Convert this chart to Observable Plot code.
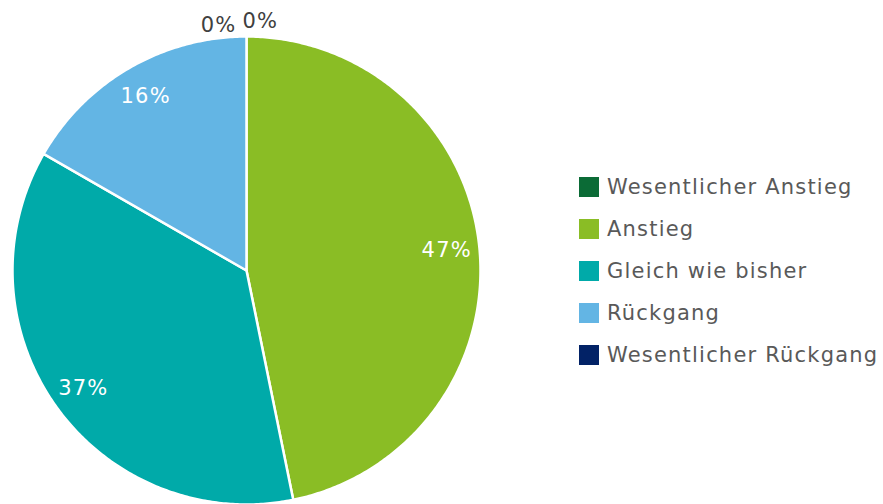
<!DOCTYPE html>
<html><head><meta charset="utf-8">
<script src="https://cdn.jsdelivr.net/npm/d3@7"></script>
<script src="https://cdn.jsdelivr.net/npm/@observablehq/plot@0.6"></script>
<style>
body{margin:0;background:#fff;font-family:"DejaVu Sans",Verdana,sans-serif;}
#wrap{position:relative;width:883px;height:504px;}
#legend{position:absolute;left:579px;top:166px;}
.row{display:flex;align-items:center;height:42px;font-size:21px;letter-spacing:1.2px;color:#595959;}
.sw{width:20px;height:20px;margin-right:8px;flex:none;}
</style></head><body>
<div id="wrap"><div id="chart"></div><div id="legend"></div></div>
<script>
const categories = ["Wesentlicher Anstieg", "Anstieg", "Gleich wie bisher", "Rückgang", "Wesentlicher Rückgang"];
const values = [0, 46.8, 36.5, 16.7, 0];
const labels = ["0%", "47%", "37%", "16%", "0%"];
const colors = ["#0b6b36", "#8abd25", "#00aaa9", "#63b5e4", "#022266"];

const W = 883, H = 504, cx = 246, cy = 270, R = 234;
const pie = d3.pie().sort(null).value(d => d.value)(categories.map((c, i) => ({cat: c, value: values[i], label: labels[i]})));

// slice polygons (angle measured clockwise from top)
const pts = [];
pie.forEach(s => {
  if (s.data.value <= 0) return;
  const n = Math.max(2, Math.ceil((s.endAngle - s.startAngle) / 0.01));
  pts.push({cat: s.data.cat, x: 0, y: 0});
  for (let k = 0; k <= n; k++) {
    const a = s.startAngle + (s.endAngle - s.startAngle) * k / n;
    pts.push({cat: s.data.cat, x: Math.sin(a), y: Math.cos(a)});
  }
  pts.push({cat: s.data.cat, x: 0, y: 0});
});

const inside = pie.filter(s => s.data.value > 0).map(s => {
  const a = (s.startAngle + s.endAngle) / 2;
  return {x: 0.86 * Math.sin(a), y: 0.86 * Math.cos(a), label: s.data.label};
});
const zeroes = pie.filter(s => s.data.value <= 0).map(s => ({
  x: 0, y: 1.07, label: s.data.label, first: s.index === 0
}));

const txt = {fontSize: 21};
const chart = Plot.plot({
  width: W, height: H, margin: 0,
  x: {domain: [-cx / R, (W - cx) / R], range: [0, W], axis: null},
  y: {domain: [-(H - cy) / R, cy / R], range: [H, 0], axis: null},
  color: {domain: categories, range: colors},
  style: {fontFamily: "DejaVu Sans, Verdana, sans-serif"},
  marks: [
    Plot.line(pts, {x: "x", y: "y", z: "cat", fill: "cat", stroke: "white", strokeWidth: 2.5, curve: "linear"}),
    Plot.text(inside, {x: "x", y: "y", text: "label", fill: "white", ...txt}),
    Plot.text(zeroes.filter(d => d.first), {x: "x", y: "y", text: "label", fill: "#404040", ...txt, textAnchor: "start", dx: -4, dy: 1}),
    Plot.text(zeroes.filter(d => !d.first), {x: "x", y: "y", text: "label", fill: "#404040", ...txt, textAnchor: "end", dx: -10, dy: 5})
  ]
});
chart.querySelectorAll("text").forEach(t => t.style.letterSpacing = "1.2px");
document.getElementById("chart").appendChild(chart);

const leg = document.getElementById("legend");
categories.forEach((c, i) => {
  const row = document.createElement("div");
  row.className = "row";
  row.innerHTML = `<span class="sw" style="background:${colors[i]}"></span><span>${c}</span>`;
  leg.appendChild(row);
});
</script></body></html>
